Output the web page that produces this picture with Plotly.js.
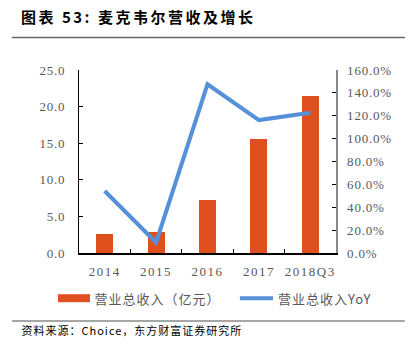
<!DOCTYPE html>
<html><head><meta charset="utf-8">
<script src="https://cdn.plot.ly/plotly-3.0.1.min.js"></script>
<style>html,body{margin:0;padding:0;background:#fff;}#c{width:411px;height:357px;}
#c .xtick text{letter-spacing:1.5px;}
#c .ytick text,#c .y2tick text{letter-spacing:0.8px;}
#c .annotation text{letter-spacing:1px;}
#c .annotation[data-index="0"] text{letter-spacing:2.5px;}
</style>
</head><body><div id="c"></div>
<script>
const categories = ["2014", "2015", "2016", "2017", "2018Q3"];
const revenue = [2.65, 2.87, 7.23, 15.6, 21.4];
const yoy = [54.2, 9.2, 147.5, 116.2, 122.6];
const leftTicks = [0, 5, 10, 15, 20, 25];
const rightTicks = [0, 20, 40, 60, 80, 100, 120, 140, 160];
const seriesNames = ["营业总收入（亿元）", "营业总收入YoY"];
const titleText = "图表 53: 麦克韦尔营收及增长";
const sourceText = "资料来源：Choice，东方财富证券研究所";

const orange = "#E0501E", blue = "#5590D9", gray = "#595959";
const numFont = {family: "Liberation Serif, serif", size: 13, color: gray};
const cjk = "Noto Sans CJK SC";

const traces = [
  {type: "bar", x: categories, y: revenue, name: seriesNames[0], marker: {color: orange}, width: 0.33, yaxis: "y", showlegend: false, hoverinfo: "skip"},
  {type: "scatter", mode: "lines", x: categories, y: yoy, name: seriesNames[1], line: {color: blue, width: 4}, yaxis: "y2", showlegend: false, hoverinfo: "skip"}
];

const layout = {
  width: 411, height: 357,
  margin: {l: 79, r: 75, t: 69.5, b: 104.3, pad: 0},
  paper_bgcolor: "#fff", plot_bgcolor: "#fff",
  bargap: 0,
  xaxis: {type: "category", showline: true, linecolor: "#000", linewidth: 1.5, ticks: "inside", tickson: "boundaries", ticklen: 4, tickcolor: "#000", showgrid: false, tickfont: numFont, ticklabelstandoff: 6, zeroline: false},
  yaxis: {range: [0, 25], tickvals: leftTicks, ticktext: leftTicks.map(v => v.toFixed(1)), showline: true, linecolor: "#000", linewidth: 1, ticks: "inside", ticklen: 4, tickcolor: "#000", showgrid: false, zeroline: false, tickfont: numFont, ticklabelstandoff: 10},
  yaxis2: {range: [0, 160], overlaying: "y", side: "right", tickvals: rightTicks, ticktext: rightTicks.map(v => v.toFixed(1) + "%"), showline: true, linecolor: "#888", linewidth: 1.5, ticks: "inside", ticklen: 4, tickcolor: "#000", showgrid: false, zeroline: false, tickfont: numFont, ticklabelstandoff: 7},
  shapes: [
    {type: "line", xref: "paper", yref: "paper", x0: -0.261, x1: 1.268, y0: 1.177, y1: 1.177, line: {color: "#666", width: 1.5}},
    {type: "line", xref: "paper", yref: "paper", x0: -0.261, x1: 1.268, y0: -0.372, y1: -0.372, line: {color: "#888", width: 1.5}},
    {type: "line", xref: "paper", yref: "paper", x0: -0.0817, x1: 0.0428, y0: -0.247, y1: -0.247, line: {color: orange, width: 8}},
    {type: "line", xref: "paper", yref: "paper", x0: 0.626, x1: 0.755, y0: -0.247, y1: -0.247, line: {color: blue, width: 4}}
  ],
  annotations: [
    {text: titleText, xref: "paper", yref: "paper", x: -0.154, y: 1.295, xanchor: "left", yanchor: "middle", showarrow: false, font: {family: cjk, size: 15, color: "#000", weight: "bold"}},
    {text: seriesNames[0], xref: "paper", yref: "paper", x: 0.07, y: -0.247, xanchor: "left", yanchor: "middle", showarrow: false, font: {family: cjk, size: 13, color: gray}},
    {text: seriesNames[1], xref: "paper", yref: "paper", x: 0.782, y: -0.247, xanchor: "left", yanchor: "middle", showarrow: false, font: {family: cjk, size: 13, color: gray}},
    {text: sourceText, xref: "paper", yref: "paper", x: -0.189, y: -0.422, xanchor: "left", yanchor: "middle", showarrow: false, font: {family: cjk, size: 11, color: "#000"}}
  ]
};

Plotly.newPlot("c", traces, layout, {staticPlot: true, displayModeBar: false});
</script></body></html>
